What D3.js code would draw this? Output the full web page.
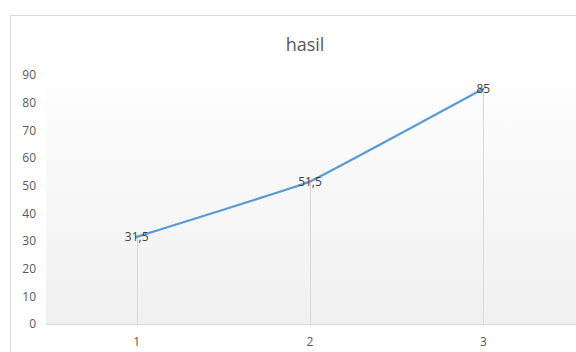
<!DOCTYPE html>
<html>
<head>
<meta charset="utf-8">
<script src="https://cdn.jsdelivr.net/npm/d3@7"></script>
<style>
  body { margin: 0; background: #fff; }
  text { font-family: "Open Sans", "Noto Sans", sans-serif; }
</style>
</head>
<body>
<div id="chart"></div>
<script>
const categories = ["1", "2", "3"];
const values = [31.5, 51.5, 85];
const labels = ["31,5", "51,5", "85"];
const yTicks = [0, 10, 20, 30, 40, 50, 60, 70, 80, 90];

const W = 576, H = 352;
const plot = { left: 50, right: 570, top: 62, bottom: 324 };

const svg = d3.select("#chart").append("svg")
    .attr("width", W)
    .attr("height", H);

// gradient for plot area
const grad = svg.append("defs").append("linearGradient")
    .attr("id", "bg")
    .attr("x1", 0).attr("y1", 0).attr("x2", 0).attr("y2", 1);
grad.append("stop").attr("offset", "0%").attr("stop-color", "#ffffff");
grad.append("stop").attr("offset", "100%").attr("stop-color", "#f0f0f0");

// chart border (cut off at right and bottom)
svg.append("rect")
    .attr("x", 10.5).attr("y", 15.5)
    .attr("width", 600).attr("height", 400)
    .attr("fill", "#fff")
    .attr("stroke", "#d9d9d9");

svg.append("rect")
    .attr("x", plot.left - 4).attr("y", plot.top)
    .attr("width", W - plot.left + 4).attr("height", plot.bottom - plot.top)
    .attr("fill", "url(#bg)");

const x = d3.scalePoint()
    .domain(categories)
    .range([plot.left, plot.right])
    .padding(0.5);

const y = d3.scaleLinear()
    .domain([0, 90])
    .range([plot.bottom, 75]);

svg.append("text")
    .attr("x", 305).attr("y", 51)
    .attr("text-anchor", "middle")
    .attr("fill", "#595959")
    .attr("font-size", "18px")
    .text("hasil");

// y tick labels
svg.append("g")
    .selectAll("text")
    .data(yTicks)
    .join("text")
    .attr("x", 36)
    .attr("y", d => y(d))
    .attr("dy", "0.35em")
    .attr("text-anchor", "end")
    .attr("fill", "#595959")
    .attr("font-size", "12px")
    .text(d => d);

// drop lines
svg.append("g")
    .selectAll("line")
    .data(values)
    .join("line")
    .attr("x1", (d, i) => Math.round(x(categories[i])) + 0.5)
    .attr("x2", (d, i) => Math.round(x(categories[i])) + 0.5)
    .attr("y1", d => y(d))
    .attr("y2", plot.bottom)
    .attr("stroke", "#d9d9d9")
    .attr("stroke-width", 1);

// x axis line
svg.append("line")
    .attr("x1", plot.left - 4).attr("x2", W)
    .attr("y1", plot.bottom + 0.5).attr("y2", plot.bottom + 0.5)
    .attr("stroke", "#d9d9d9")
    .attr("stroke-width", 1);

// x tick labels
svg.append("g")
    .selectAll("text")
    .data(categories)
    .join("text")
    .attr("x", d => x(d))
    .attr("y", 346)
    .attr("text-anchor", "middle")
    .attr("fill", "#595959")
    .attr("font-size", "12px")
    .text(d => d);

const line = d3.line()
    .x((d, i) => x(categories[i]))
    .y(d => y(d))
    .curve(d3.curveCardinal.tension(0.8));

svg.append("path")
    .datum(values)
    .attr("d", line)
    .attr("fill", "none")
    .attr("stroke", "#5b9bd5")
    .attr("stroke-width", 2.25)
    .attr("stroke-linecap", "round");

// data labels
svg.append("g")
    .selectAll("text")
    .data(values)
    .join("text")
    .attr("x", (d, i) => x(categories[i]))
    .attr("y", d => y(d))
    .attr("dy", "0.35em")
    .attr("text-anchor", "middle")
    .attr("fill", "#404040")
    .attr("font-size", "12px")
    .text((d, i) => labels[i]);
</script>
</body>
</html>
